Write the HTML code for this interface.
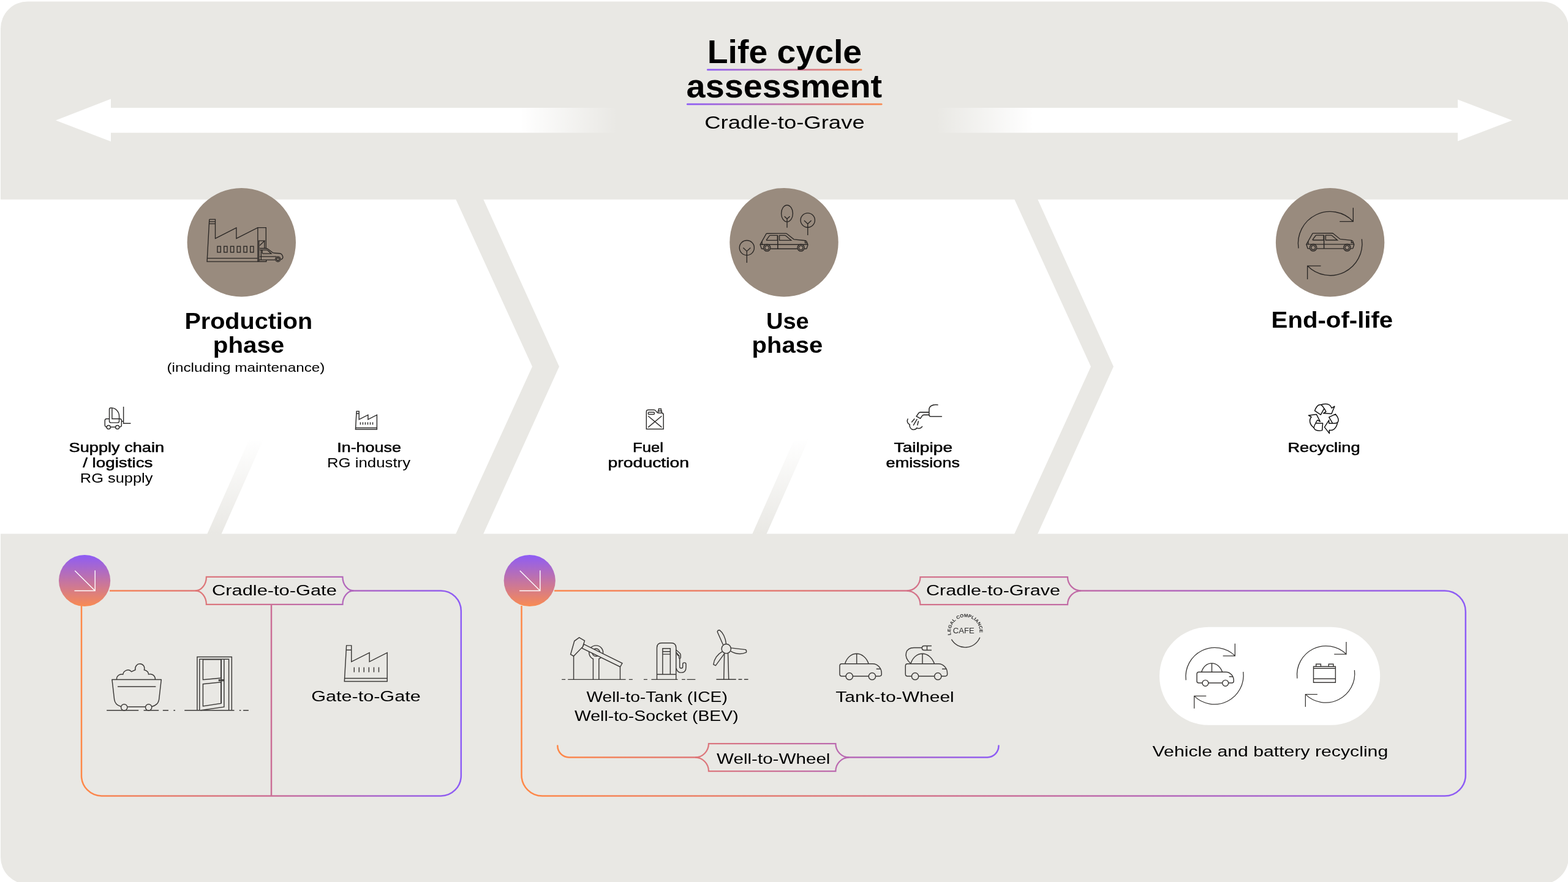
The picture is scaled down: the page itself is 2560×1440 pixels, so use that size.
<!DOCTYPE html>
<html lang="en">
<head>
<meta charset="utf-8">
<title>Life cycle assessment</title>
<style>
html,body{margin:0;padding:0;background:#fff;}
body{width:2560px;height:1440px;overflow:hidden;position:relative;}
svg{display:block;position:absolute;left:0;top:0;will-change:transform;}
svg text{font-family:"Liberation Sans",sans-serif;white-space:pre;}
</style>
</head>
<body>
<svg width="2560" height="1440" viewBox="0 0 2560 1440">
<defs>
<linearGradient id="gArrL" gradientUnits="userSpaceOnUse" x1="850" y1="0" x2="1008" y2="0">
<stop offset="0" stop-color="#fff" stop-opacity="1"/><stop offset="1" stop-color="#fff" stop-opacity="0"/></linearGradient>
<linearGradient id="gArrR" gradientUnits="userSpaceOnUse" x1="1528" y1="0" x2="1686" y2="0">
<stop offset="0" stop-color="#fff" stop-opacity="0"/><stop offset="1" stop-color="#fff" stop-opacity="1"/></linearGradient>
<linearGradient id="gStripe" gradientUnits="userSpaceOnUse" x1="0" y1="871" x2="0" y2="716">
<stop offset="0" stop-color="#E9E8E4" stop-opacity="1"/><stop offset="1" stop-color="#E9E8E4" stop-opacity="0"/></linearGradient>
<linearGradient id="gTitle1" gradientUnits="userSpaceOnUse" x1="1154" y1="0" x2="1407" y2="0">
<stop offset="0" stop-color="#8D5CF6"/><stop offset="1" stop-color="#F98B52"/></linearGradient>
<linearGradient id="gTitle2" gradientUnits="userSpaceOnUse" x1="1121" y1="0" x2="1440" y2="0">
<stop offset="0" stop-color="#8D5CF6"/><stop offset="1" stop-color="#F98B52"/></linearGradient>
<linearGradient id="gDot" x1="0" y1="0" x2="0" y2="1">
<stop offset="0" stop-color="#8D5CF6"/><stop offset="1" stop-color="#F98B52"/></linearGradient>
<linearGradient id="gBox1" gradientUnits="userSpaceOnUse" x1="132" y1="0" x2="754" y2="0">
<stop offset="0" stop-color="#FF8847"/><stop offset="0.5" stop-color="#CB6E96"/><stop offset="1" stop-color="#8D5CF6"/></linearGradient>
<linearGradient id="gBox2" gradientUnits="userSpaceOnUse" x1="851" y1="0" x2="2395" y2="0">
<stop offset="0" stop-color="#FF8847"/><stop offset="0.5" stop-color="#CB6E96"/><stop offset="1" stop-color="#8D5CF6"/></linearGradient>
<linearGradient id="gBox3" gradientUnits="userSpaceOnUse" x1="909" y1="0" x2="1632" y2="0">
<stop offset="0" stop-color="#FF8847"/><stop offset="0.5" stop-color="#CB6E96"/><stop offset="1" stop-color="#8D5CF6"/></linearGradient>
</defs>
<rect x="1" y="2.5" width="2560" height="1441" rx="44" ry="44" fill="#E9E8E4"/>
<rect x="0" y="325.7" width="2560" height="545.8" fill="#fff"/>
<polygon points="744,325 789,325 913,598.5 789,872 744,872 869,598.5" fill="#E9E8E4"/>
<polygon points="1656,325 1694,325 1818,598.5 1694,872 1656,872 1781,598.5" fill="#E9E8E4"/>
<polygon points="338.2,872 361.4,872 430.6,716 407.4,716" fill="url(#gStripe)"/>
<polygon points="1228.2,872 1251.4,872 1320.6,716 1297.4,716" fill="url(#gStripe)"/>
<polygon points="91,196.4 181,161.6 181,176.0 1010,176.0 1010,216.7 181,216.7 181,231.0" fill="url(#gArrL)"/>
<polygon points="2469,196.4 2380,162.4 2380,176.1 1526,176.1 1526,216.7 2380,216.7 2380,230.5" fill="url(#gArrR)"/>
<rect x="1154" y="112.6" width="253.5" height="2.7" rx="1.3" fill="url(#gTitle1)"/>
<rect x="1121" y="168.85" width="319.5" height="2.7" rx="1.3" fill="url(#gTitle2)"/>
<circle cx="394.3" cy="395.7" r="88.7" fill="#998B7E"/>
<circle cx="1280.0" cy="395.7" r="88.7" fill="#998B7E"/>
<circle cx="2171.6" cy="395.7" r="88.7" fill="#998B7E"/>
<path d="M179 964.4 H325 M571 964.4 H719.8 A33 33 0 0 1 752.8 997.4 V1266.4 A33 33 0 0 1 719.8 1299.4 H166 A33 33 0 0 1 133 1266.4 V989" fill="none" stroke="url(#gBox1)" stroke-width="2.5"/>
<path d="M443 987.0 V1299.4" fill="none" stroke="url(#gBox1)" stroke-width="2.5"/>
<path d="M336.9 941.9 H559.4 A18 22.5 0 0 0 577.4 964.4 A18 22.5 0 0 0 559.4 986.9 H336.9 A18 22.5 0 0 0 318.9 964.4 A18 22.5 0 0 0 336.9 941.9 Z" fill="none" stroke="url(#gBox1)" stroke-width="2.25" stroke-linejoin="miter"/>
<path d="M905 964.5 H1486 M1759 964.5 H2358.8 A34 34 0 0 1 2392.8 998.5 V1265.5 A34 34 0 0 1 2358.8 1299.5 H885.5 A34 34 0 0 1 851.5 1265.5 V989" fill="none" stroke="url(#gBox2)" stroke-width="2.5"/>
<path d="M1502.5 942.0 H1743.0 A22 22.5 0 0 0 1765.0 964.5 A22 22.5 0 0 0 1743.0 987.0 H1502.5 A22 22.5 0 0 0 1480.5 964.5 A22 22.5 0 0 0 1502.5 942.0 Z" fill="none" stroke="url(#gBox2)" stroke-width="2.25" stroke-linejoin="miter"/>
<path d="M910.3 1217.6 A18.5 18.9 0 0 0 928.8 1236.5 H1141 M1380 1236.5 H1612 A18.5 18.9 0 0 0 1630.5 1217.6" fill="none" stroke="url(#gBox3)" stroke-width="2.5" stroke-linecap="round"/>
<path d="M1157 1214.1 H1364.3 A22 22.5 0 0 0 1386.3 1236.6 A22 22.5 0 0 0 1364.3 1259.1 H1157 A22 22.5 0 0 0 1135 1236.6 A22 22.5 0 0 0 1157 1214.1 Z" fill="none" stroke="url(#gBox3)" stroke-width="2.25" stroke-linejoin="miter"/>
<circle cx="138.1" cy="948" r="42.1" fill="url(#gDot)"/>
<path d="M122.2 931.8 L155.2 964.5 M155.2 931.2 V964.5 H121.5" fill="none" stroke="#fff" stroke-width="1.4"/>
<circle cx="864.7" cy="948" r="42.1" fill="url(#gDot)"/>
<path d="M848.8 931.8 L881.8 964.5 M881.8 931.2 V964.5 H848.1" fill="none" stroke="#fff" stroke-width="1.4"/>
<rect x="1893" y="1023.8" width="360.2" height="160" rx="80" fill="#fff"/>
<text id="t_title1" x="1154.80" y="102.50" font-size="53.5" font-weight="700" textLength="252.36" lengthAdjust="spacingAndGlyphs" fill="#000">Life cycle</text>
<text id="t_title2" x="1120.60" y="158.80" font-size="53.5" font-weight="700" textLength="319.62" lengthAdjust="spacingAndGlyphs" fill="#000">assessment</text>
<text id="t_sub" x="1150.20" y="210.30" font-size="29.5" font-weight="400" textLength="261.49" lengthAdjust="spacingAndGlyphs" fill="#000">Cradle-to-Grave</text>
<text id="t_p1a" x="301.40" y="537.20" font-size="36.5" font-weight="700" textLength="208.72" lengthAdjust="spacingAndGlyphs" fill="#000">Production</text>
<text id="t_p1b" x="347.80" y="576.30" font-size="36.5" font-weight="700" textLength="116.43" lengthAdjust="spacingAndGlyphs" fill="#000">phase</text>
<text id="t_p1c" x="272.40" y="606.90" font-size="20.5" font-weight="400" textLength="258.04" lengthAdjust="spacingAndGlyphs" fill="#000">(including maintenance)</text>
<text id="t_p2a" x="1251.00" y="537.20" font-size="36.5" font-weight="700" textLength="69.77" lengthAdjust="spacingAndGlyphs" fill="#000">Use</text>
<text id="t_p2b" x="1227.60" y="576.30" font-size="36.5" font-weight="700" textLength="115.54" lengthAdjust="spacingAndGlyphs" fill="#000">phase</text>
<text id="t_p3a" x="2075.60" y="534.50" font-size="36.5" font-weight="700" textLength="198.62" lengthAdjust="spacingAndGlyphs" fill="#000">End-of-life</text>
<text id="t_s1a" x="112.60" y="737.70" font-size="22" font-weight="400" textLength="155.47" lengthAdjust="spacingAndGlyphs" fill="#000" stroke="#000" stroke-width="0.5" stroke-linejoin="round">Supply chain</text>
<text id="t_s1b" x="135.20" y="762.90" font-size="22" font-weight="400" textLength="114.24" lengthAdjust="spacingAndGlyphs" fill="#000" stroke="#000" stroke-width="0.5" stroke-linejoin="round">/ logistics</text>
<text id="t_s1c" x="130.80" y="788.20" font-size="22" font-weight="400" textLength="118.64" lengthAdjust="spacingAndGlyphs" fill="#000">RG supply</text>
<text id="t_s2a" x="550.20" y="737.70" font-size="22" font-weight="400" textLength="104.77" lengthAdjust="spacingAndGlyphs" fill="#000" stroke="#000" stroke-width="0.5" stroke-linejoin="round">In-house</text>
<text id="t_s2b" x="534.00" y="763.00" font-size="22" font-weight="400" textLength="136.03" lengthAdjust="spacingAndGlyphs" fill="#000">RG industry</text>
<text id="t_s3a" x="1033.00" y="737.70" font-size="22" font-weight="400" textLength="50.02" lengthAdjust="spacingAndGlyphs" fill="#000" stroke="#000" stroke-width="0.5" stroke-linejoin="round">Fuel</text>
<text id="t_s3b" x="992.60" y="763.00" font-size="22" font-weight="400" textLength="132.52" lengthAdjust="spacingAndGlyphs" fill="#000" stroke="#000" stroke-width="0.5" stroke-linejoin="round">production</text>
<text id="t_s4a" x="1459.60" y="737.70" font-size="22" font-weight="400" textLength="95.45" lengthAdjust="spacingAndGlyphs" fill="#000" stroke="#000" stroke-width="0.5" stroke-linejoin="round">Tailpipe</text>
<text id="t_s4b" x="1446.60" y="763.00" font-size="22" font-weight="400" textLength="120.39" lengthAdjust="spacingAndGlyphs" fill="#000" stroke="#000" stroke-width="0.5" stroke-linejoin="round">emissions</text>
<text id="t_s5a" x="2102.40" y="737.70" font-size="22" font-weight="400" textLength="118.16" lengthAdjust="spacingAndGlyphs" fill="#000" stroke="#000" stroke-width="0.5" stroke-linejoin="round">Recycling</text>
<text id="t_l1" x="346.00" y="971.90" font-size="24.5" font-weight="400" textLength="203.81" lengthAdjust="spacingAndGlyphs" fill="#000">Cradle-to-Gate</text>
<text id="t_l2" x="1512.00" y="972.30" font-size="24.5" font-weight="400" textLength="219.04" lengthAdjust="spacingAndGlyphs" fill="#000">Cradle-to-Grave</text>
<text id="t_l3" x="1170.00" y="1246.90" font-size="24.5" font-weight="400" textLength="185.45" lengthAdjust="spacingAndGlyphs" fill="#000">Well-to-Wheel</text>
<text id="t_b1" x="508.20" y="1145.20" font-size="24.5" font-weight="400" textLength="178.47" lengthAdjust="spacingAndGlyphs" fill="#000">Gate-to-Gate</text>
<text id="t_b2" x="957.40" y="1145.50" font-size="24.5" font-weight="400" textLength="230.45" lengthAdjust="spacingAndGlyphs" fill="#000">Well-to-Tank (ICE)</text>
<text id="t_b3" x="938.00" y="1176.70" font-size="24.5" font-weight="400" textLength="267.67" lengthAdjust="spacingAndGlyphs" fill="#000">Well-to-Socket (BEV)</text>
<text id="t_b4" x="1364.20" y="1145.60" font-size="24.5" font-weight="400" textLength="193.60" lengthAdjust="spacingAndGlyphs" fill="#000">Tank-to-Wheel</text>
<text id="t_b5" x="1881.60" y="1234.70" font-size="24.5" font-weight="400" textLength="384.61" lengthAdjust="spacingAndGlyphs" fill="#000">Vehicle and battery recycling</text>
<g transform="translate(314 340) scale(0.062500)" fill="none" stroke="#2a2725" stroke-width="21.60" stroke-linecap="butt" stroke-linejoin="miter"><path d="M445 290 H600 V790 L1150 510 V790 L1710 505 H1925 V1045"/><path d="M445 290 L385 1395 H1710 M390 1305 H1710 M1710 505 V1395"/><path d="M441 350 H600 M438 405 H600"/><rect x="655" y="995" width="85" height="155"/><rect x="827" y="995" width="85" height="155"/><rect x="999" y="995" width="85" height="155"/><rect x="1171" y="995" width="85" height="155"/><rect x="1343" y="995" width="85" height="155"/><rect x="1515" y="995" width="85" height="155"/></g>
<g transform="translate(414 385) scale(0.034722)" fill="none" stroke="#2a2725" stroke-width="38.88" stroke-linecap="butt" stroke-linejoin="miter"><path d="M250 235 V1205 M225 235 H545 M512 235 V590 M290 452 L492 258"/><path d="M250 1135 H1020 M195 1210 H598 V1135"/><path d="M290 590 H560 Q640 590 720 655 L880 780 Q920 810 1000 815 L1230 828 Q1300 835 1330 880 Q1380 960 1380 1010 Q1378 1080 1290 1120"/><path d="M290 665 H600 Q650 668 690 705 L835 840 H440 Q410 840 410 810 V668"/><path d="M290 975 H1070 M355 665 V1135"/><circle cx="1145" cy="1100" r="118"/><circle cx="1145" cy="1100" r="62"/></g>
<g transform="translate(1190 320) scale(0.083333)" fill="none" stroke="#2a2725" stroke-width="16.20" stroke-linecap="butt" stroke-linejoin="miter"><ellipse cx="1140" cy="343" rx="113" ry="163"/><path d="M1140 445 V622 M1088 398 L1140 447 L1195 398"/><circle cx="1545" cy="475" r="140"/><path d="M1545 545 V768 M1475 480 L1545 547 L1615 480"/><circle cx="352" cy="1015" r="145"/><path d="M352 1080 V1308 M280 1015 L352 1082 L425 1015"/></g>
<g transform="translate(1235 372) scale(0.035157)" fill="none" stroke="#2a2725" stroke-width="38.40" stroke-linecap="butt" stroke-linejoin="miter"><path d="M240 975 L172 778 L255 630 L460 268 Q465 262 480 262 L1370 260 Q1400 262 1425 282 L1740 535 L2260 590 Q2310 600 2325 630 L2385 775 V800 L2335 955 Q2328 975 2300 975 H2230 M240 975 H330 M660 975 H1900"/><path d="M172 776 H2385"/><path d="M990 352 V975" stroke-width="44"/><path d="M255 630 L268 775 M2262 595 V700 H2350"/><path d="M480 578 Q455 575 472 548 L600 372 Q615 354 640 354 H975 V578 Z"/><path d="M1068 354 H1320 Q1345 356 1365 372 L1612 578 H1068 Z"/><circle cx="490" cy="925" r="160"/><circle cx="490" cy="925" r="95"/><circle cx="2065" cy="925" r="160"/><circle cx="2065" cy="925" r="95"/></g>
<g transform="translate(2082 320) scale(0.104167)" fill="none" stroke="#2a2725" stroke-width="12.96" stroke-linecap="butt" stroke-linejoin="miter"><path d="M365 820 A500 500 0 0 1 1222 400 M1222 185 V400 H1010"/><path d="M1357 675 A500 500 0 0 1 505 1095 M505 1305 V1095 H715"/></g>
<g transform="translate(2126.8 371.65) scale(0.035157)" fill="none" stroke="#2a2725" stroke-width="38.40" stroke-linecap="butt" stroke-linejoin="miter"><path d="M240 975 L172 778 L255 630 L460 268 Q465 262 480 262 L1370 260 Q1400 262 1425 282 L1740 535 L2260 590 Q2310 600 2325 630 L2385 775 V800 L2335 955 Q2328 975 2300 975 H2230 M240 975 H330 M660 975 H1900"/><path d="M172 776 H2385"/><path d="M990 352 V975" stroke-width="44"/><path d="M255 630 L268 775 M2262 595 V700 H2350"/><path d="M480 578 Q455 575 472 548 L600 372 Q615 354 640 354 H975 V578 Z"/><path d="M1068 354 H1320 Q1345 356 1365 372 L1612 578 H1068 Z"/><circle cx="490" cy="925" r="160"/><circle cx="490" cy="925" r="95"/><circle cx="2065" cy="925" r="160"/><circle cx="2065" cy="925" r="95"/></g>
<g transform="translate(160 655) scale(0.038197)" fill="none" stroke="#2e2d2c" stroke-width="37.96" stroke-linecap="butt" stroke-linejoin="miter"><path d="M370 1105 Q295 1090 295 1020 V830 Q295 755 370 755 H485 M905 755 H935 Q1005 755 1005 830 V1030 Q1005 1098 925 1108 M545 1108 H740"/><path d="M485 850 V350 Q485 290 545 290 H590 C760 300 905 450 905 640 V850 Q905 920 835 920 H555 Q485 920 485 850 Z"/><path d="M600 300 V755 H905"/><path d="M1090 235 V950 H1400 M1005 860 H1090"/><circle cx="452" cy="1112" r="80"/><circle cx="830" cy="1112" r="80"/></g>
<g transform="translate(569.29375 664.65) scale(0.031250)" fill="none" stroke="#2e2d2c" stroke-width="46.40" stroke-linecap="butt" stroke-linejoin="miter"><path d="M410 222 H540 V645 L1010 410 V645 L1475 410 V1160 H357 Z" stroke-linejoin="miter"/><path d="M404 340 H540 M362 1080 H1475"/><path d="M612 790 V920"/><path d="M740 790 V920"/><path d="M868 790 V920"/><path d="M997 790 V920"/><path d="M1127 790 V920"/><path d="M1255 790 V920"/></g>
<g transform="translate(1045 655) scale(0.038197)" fill="none" stroke="#2e2d2c" stroke-width="37.96" stroke-linecap="butt" stroke-linejoin="miter"><path d="M270 1190 V450 Q270 375 345 375 H590 Q650 375 680 420 L715 470 Q740 505 790 505 H930 Q1000 510 1000 590 V1190 Z"/><path d="M795 420 V325 H900 V420 M770 505 V420 H925 V505"/><rect x="350" y="470" width="260" height="95" rx="28"/><path d="M345 635 L925 1115 M925 635 L345 1115"/></g>
<g transform="translate(1475 652) scale(0.040274)" fill="none" stroke="#2e2d2c" stroke-width="38.49" stroke-linecap="butt" stroke-linejoin="miter"><path d="M1390 225 C1200 200 1040 260 1040 420 V620 Q1040 695 1110 695 H1550" stroke-linecap="round"/><path d="M1040 525 H680 Q640 525 615 560 L525 690 L685 775 L765 660 Q785 630 830 630 H1040"/><path d="M455 780 L330 930 M555 800 L400 1060 M610 875 L565 1055"/><path d="M175 795 C130 880 170 990 255 1025 C230 1120 310 1230 410 1230 C470 1230 520 1200 540 1160 C620 1200 720 1170 760 1100" stroke-linecap="round"/></g>
<g transform="translate(2130 652) scale(0.043066)" fill="none" stroke="#111" stroke-width="34.83" stroke-linecap="butt" stroke-linejoin="miter"><g stroke-linejoin="round"><path d="M385 430 C420 330 470 250 535 215 Q580 200 625 205 C680 250 720 300 740 350 L610 585 Z"/><path d="M625 205 C720 170 850 165 920 200 C980 230 1015 280 1030 330 L1135 265 L1020 545 L710 530 L810 470 C790 420 770 385 740 350"/><g transform="rotate(120 740 722)"><path d="M385 430 C420 330 470 250 535 215 Q580 200 625 205 C680 250 720 300 740 350 L610 585 Z"/><path d="M625 205 C720 170 850 165 920 200 C980 230 1015 280 1030 330 L1135 265 L1020 545 L710 530 L810 470 C790 420 770 385 740 350"/></g><g transform="rotate(240 740 722)"><path d="M385 430 C420 330 470 250 535 215 Q580 200 625 205 C680 250 720 300 740 350 L610 585 Z"/><path d="M625 205 C720 170 850 165 920 200 C980 230 1015 280 1030 330 L1135 265 L1020 545 L710 530 L810 470 C790 420 770 385 740 350"/></g></g></g>
<g transform="translate(160 1060) scale(0.083333)" fill="none" stroke="#3b3937" stroke-width="17.40" stroke-linecap="butt" stroke-linejoin="miter"><path d="M170 1198 H795 M895 1198 H1190 M1270 1198 H1380 M1480 1198 H1512"/><path d="M270 593 H1245"/><path d="M275 593 L320 985 Q335 1090 450 1122 M1240 593 L1195 985 Q1180 1090 1058 1122 M580 1127 H925"/><path d="M385 733 H1132"/><circle cx="513" cy="1138" r="62"/><circle cx="992" cy="1138" r="62"/><path d="M365 590 C365 520 420 480 490 492 C500 420 600 370 655 440 L730 405 C720 330 770 285 820 285 C875 285 925 335 905 405 C960 420 990 455 990 490 C1060 470 1120 520 1122 590"/></g>
<g transform="translate(290 1060) scale(0.083333)" fill="none" stroke="#3b3937" stroke-width="17.40" stroke-linecap="butt" stroke-linejoin="miter"><path d="M135 1198 H1110 M1210 1198 H1240 M1285 1198 H1390"/><path d="M383 1198 V150 H1060 V1198"/><path d="M430 1198 V195 H1003 V1198"/><path d="M910 195 V1130 L450 1196 M855 200 V1062"/><path d="M497 200 H850 V565 L497 597 Z M497 680 L850 645 V1062 L497 1115 Z"/><path d="M810 597 H905 V617 H810 Z"/></g>
<g transform="translate(540 1040) scale(0.062500)" fill="none" stroke="#3b3937" stroke-width="23.20" stroke-linecap="butt" stroke-linejoin="miter"><path d="M410 222 H540 V645 L1010 410 V645 L1475 410 V1160 H357 Z" stroke-linejoin="miter"/><path d="M404 340 H540 M362 1080 H1475"/><path d="M612 790 V920"/><path d="M740 790 V920"/><path d="M868 790 V920"/><path d="M997 790 V920"/><path d="M1127 790 V920"/><path d="M1255 790 V920"/></g>
<g transform="translate(910 1030) scale(0.062500)" fill="none" stroke="#3b3937" stroke-width="23.20" stroke-linecap="butt" stroke-linejoin="miter"><path d="M115 1270 H210 M275 1270 H1785 M1870 1270 H1965"/><path d="M425 660 V1270 M1640 940 V1270"/><path d="M935 1270 V732 A183 183 0 1 1 1085 732 V1270"/><circle cx="1010" cy="565" r="100"/><path d="M695 350 L1695 845 L1640 940 L640 450 Z" fill="#E9E8E4"/><path d="M570 175 L712 258 L662 415 L425 660 L345 615 L445 265 Z" fill="#E9E8E4"/></g>
<g transform="translate(1045 1030) scale(0.062500)" fill="none" stroke="#3b3937" stroke-width="23.20" stroke-linecap="butt" stroke-linejoin="miter"><path d="M95 1270 H190 M295 1270 H985 M1090 1270 H1180 M1225 1270 H1445"/><path d="M440 1270 V440 Q440 315 565 315 H815 Q940 315 940 440 V1270 M440 1135 H940"/><path d="M590 1135 V460 H790 V1135 M590 540 H790 M590 610 H790"/><path d="M940 495 L1040 585 Q1060 605 1060 640 V700 Q1040 745 1020 715 V650 L945 565 M960 600 L1005 655"/><path d="M1035 730 V935 Q1035 975 1075 975 Q1115 975 1115 935 V870 Q1115 830 1157 830 Q1200 830 1200 870 V950 Q1200 1090 1065 1090 Q980 1090 945 980"/></g>
<g transform="translate(1150 1020) scale(0.069444)" fill="none" stroke="#3b3937" stroke-width="20.88" stroke-linecap="butt" stroke-linejoin="miter"><path d="M280 1285 H745 M800 1285 H885 M935 1285 H1030"/><path d="M470 672 L457 1285 M555 672 L572 1285"/><path d="M440 472 L305 165 Q315 122 355 125 C430 180 500 300 512 452" stroke-linejoin="round"/><path d="M625 545 L970 585 Q998 605 985 650 C880 700 740 690 618 620" stroke-linejoin="round"/><path d="M418 632 C320 690 230 800 213 935 L265 960 L468 682" stroke-linejoin="round"/><circle cx="515" cy="565" r="110"/></g>
<g transform="translate(1360 1040) scale(0.078125)" fill="none" stroke="#3b3937" stroke-width="18.56" stroke-linecap="butt" stroke-linejoin="miter"><path d="M270 818 H185 Q140 818 140 773 V605 Q140 560 185 560 H830 C930 560 1015 650 1015 760 V775 Q1015 818 970 818 H890 M414 818 H746"/><circle cx="342" cy="822" r="72"/><circle cx="818" cy="822" r="72"/><path d="M250 560 C290 420 390 350 495 350 C600 350 700 430 745 560 M495 350 V560"/><path d="M905 668 H997"/></g>
<g transform="translate(1467.34375 1040) scale(0.078125)" fill="none" stroke="#3b3937" stroke-width="18.56" stroke-linecap="butt" stroke-linejoin="miter"><path d="M270 818 H185 Q140 818 140 773 V605 Q140 560 185 560 H830 C930 560 1015 650 1015 760 V775 Q1015 818 970 818 H890 M414 818 H746"/><circle cx="342" cy="822" r="72"/><circle cx="818" cy="822" r="72"/><path d="M250 560 C290 420 390 350 495 350 C600 350 700 430 745 560 M495 350 V560"/><path d="M905 668 H997"/></g>
<g transform="translate(1360 1040) scale(0.078125)" fill="none" stroke="#3b3937" stroke-width="18.56" stroke-linecap="butt" stroke-linejoin="miter"><path d="M1625 556 C1540 480 1510 400 1530 330 C1550 260 1610 225 1690 225 H1860"/><path d="M1965 185 H1905 Q1860 185 1860 230 Q1860 275 1905 275 H1965 M1965 185 V275 M1965 185 H2060 M1965 275 H2060"/></g>
<path d="M1553.43 1043.89 A25.86 25.86 0 0 0 1599.79 1040.77" fill="none" stroke="#3b3937" stroke-width="1.4"/>
<path id="cafeArc" d="M1552.90 1036.51 A23.6 23.6 0 1 1 1599.39 1032.65" fill="none" stroke="none"/>
<text font-size="7.3" font-weight="700" fill="#2b2b2b"><textPath href="#cafeArc" startOffset="0" textLength="81.3" lengthAdjust="spacingAndGlyphs">LEGAL COMPLIANCE</textPath></text>
<text id="t_cafe" x="1555.80" y="1033.90" font-size="12.6" font-weight="400" textLength="35.09" lengthAdjust="spacingAndGlyphs" fill="#333">CAFE</text>
<g transform="translate(1925 1040) scale(0.086828)" fill="none" stroke="#3b3937" stroke-width="14.97" stroke-linecap="butt" stroke-linejoin="miter"><path d="M130 810 A545 545 0 0 1 1052 355 M1052 125 V355 H825"/><path d="M1207 655 A545 545 0 0 1 285 1110 M285 1345 V1110 H510"/></g>
<g transform="translate(2106.6 1037.25) scale(0.086828)" fill="none" stroke="#3b3937" stroke-width="14.97" stroke-linecap="butt" stroke-linejoin="miter"><path d="M130 810 A545 545 0 0 1 1052 355 M1052 125 V355 H825"/><path d="M1207 655 A545 545 0 0 1 285 1110 M285 1345 V1110 H510"/></g>
<g transform="translate(1944.46 1058.8) scale(0.068752)" fill="none" stroke="#3b3937" stroke-width="21.09" stroke-linecap="butt" stroke-linejoin="miter"><path d="M270 818 H185 Q140 818 140 773 V605 Q140 560 185 560 H830 C930 560 1015 650 1015 760 V775 Q1015 818 970 818 H890 M414 818 H746"/><circle cx="342" cy="822" r="72"/><circle cx="818" cy="822" r="72"/><path d="M250 560 C290 420 390 350 495 350 C600 350 700 430 745 560 M495 350 V560"/><path d="M905 668 H997"/></g>
<g transform="translate(2105 1037) scale(0.086828)" fill="none" stroke="#3b3937" stroke-width="16.70" stroke-linecap="butt" stroke-linejoin="miter"><path d="M455 590 H868 V890 H455 Z M455 625 H868 M455 820 H868"/><path d="M503 590 V545 H592 V590 M740 590 V545 H828 V590"/></g>
</svg>
</body>
</html>
